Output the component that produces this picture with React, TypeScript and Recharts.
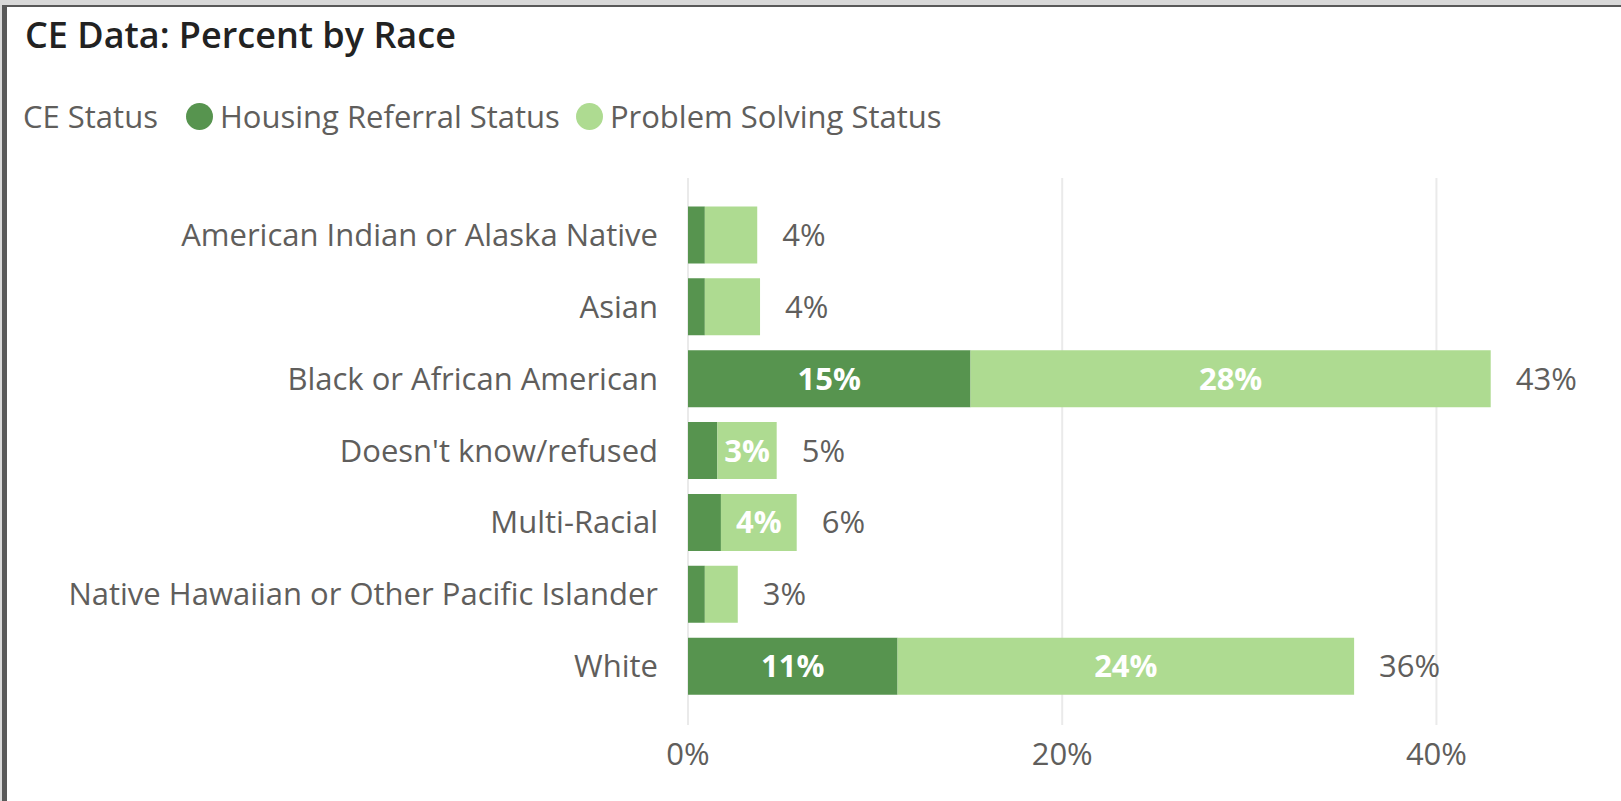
import React from 'react';
import { BarChart, Bar, XAxis, YAxis, CartesianGrid, LabelList, Legend } from 'recharts';

const categories = [
  'American Indian or Alaska Native',
  'Asian',
  'Black or African American',
  "Doesn't know/refused",
  'Multi-Racial',
  'Native Hawaiian or Other Pacific Islander',
  'White',
];
const housingReferral = [0.9, 0.9, 15.1, 1.57, 1.76, 0.9, 11.2];
const problemSolving = [2.8, 2.95, 27.8, 3.17, 4.05, 1.76, 24.4];
const xTicks = [0, 20, 40];
const seriesNames = ['Housing Referral Status', 'Problem Solving Status'];
const legendTitle = 'CE Status';
const chartTitle = 'CE Data: Percent by Race';

const DARK = '#57944F';
const LIGHT = '#AEDB91';
const GRAY = '#605E5C';
const FONT = "'Open Sans', 'Segoe UI', sans-serif";

const data = categories.map((race, i) => ({
  race,
  housing: housingReferral[i],
  problem: problemSolving[i],
  total: housingReferral[i] + problemSolving[i],
}));

const fmt = (v: number) => `${Math.round(v)}%`;

const getBox = (p: any) => {
  const vb = p.viewBox && p.viewBox.width !== undefined ? p.viewBox : p;
  return { x: Number(vb.x), y: Number(vb.y), width: Number(vb.width), height: Number(vb.height) };
};

const InnerLabel = (p: any) => {
  const { x, y, width, height } = getBox(p);
  if (!(width >= 57)) return null;
  return (
    <text x={x + width / 2} y={y + height / 2 + 11} textAnchor="middle" fill="#FFFFFF"
      fontFamily={FONT} fontSize={31} fontWeight={700}>
      {fmt(Number(p.value))}
    </text>
  );
};

const TotalLabel = (p: any) => {
  const { x, y, width, height } = getBox(p);
  return (
    <text x={x + width + 25} y={y + height / 2 + 11} textAnchor="start" fill={GRAY}
      fontFamily={FONT} fontSize={31}>
      {fmt(Number(p.value))}
    </text>
  );
};

const YTick = (p: any) => (
  <text x={p.x} y={p.y + 11} textAnchor="end" fill={GRAY} fontFamily={FONT} fontSize={31}>
    {p.payload.value}
  </text>
);

const XTick = (p: any) => (
  <text x={p.x} y={p.y} textAnchor="middle" fill={GRAY} fontFamily={FONT} fontSize={31}>
    {`${p.payload.value}%`}
  </text>
);

const LegendContent = (p: any) => {
  const items = p.payload || [];
  return (
    <div style={{ display: 'flex', alignItems: 'center', fontFamily: FONT, fontSize: 31, lineHeight: 1, color: GRAY, whiteSpace: 'nowrap' }}>
      <span style={{ marginRight: 28 }}>{legendTitle}</span>
      {items.map((it: any, i: number) => (
        <span key={i} style={{ display: 'flex', alignItems: 'center', marginRight: 16 }}>
          <span style={{ width: 27, height: 27, borderRadius: '50%', background: it.color, marginRight: 7, display: 'inline-block' }} />
          <span>{it.value}</span>
        </span>
      ))}
    </div>
  );
};

export default function App() {
  return (
    <div style={{ position: 'absolute', left: 0, top: 0, width: 1621, height: 801, background: '#FFFFFF', overflow: 'hidden' }}>
      <div style={{ position: 'absolute', left: 0, top: 0, width: 1621, height: 4.5, background: '#D9D9D9' }} />
      <div style={{ position: 'absolute', left: 0, top: 0, width: 2, height: 801, background: '#D9D9D9' }} />
      <div style={{ position: 'absolute', left: 2, top: 4.5, width: 1619, height: 2.5, background: '#595959' }} />
      <div style={{ position: 'absolute', left: 2, top: 4.5, width: 5, height: 797, background: '#595959' }} />
      <div style={{ position: 'absolute', left: 25, top: 17, fontFamily: FONT, fontSize: 36, fontWeight: 600, lineHeight: 1, color: '#222222', whiteSpace: 'nowrap' }}>
        {chartTitle}
      </div>
      <div style={{ position: 'absolute', left: 0, top: 0 }}>
        <BarChart
          width={1621}
          height={801}
          data={data}
          layout="vertical"
          margin={{ top: 178, right: 91, left: 0, bottom: 36 }}
          barCategoryGap={7.5}
        >
          <CartesianGrid horizontal={false} vertical={true} verticalValues={xTicks} stroke="#EAEAEA" strokeWidth={2} />
          <XAxis
            type="number"
            domain={[0, 45]}
            ticks={xTicks}
            height={40}
            axisLine={false}
            tickLine={false}
            tickSize={0}
            tickMargin={40}
            tick={<XTick />}
            interval={0}
          />
          <YAxis
            type="category"
            dataKey="race"
            width={688}
            axisLine={false}
            tickLine={false}
            tickSize={0}
            tickMargin={30}
            tick={<YTick />}
            interval={0}
            padding={{ top: 21, bottom: 23 }}
          />
          <Legend
            verticalAlign="middle"
            align="center"
            layout="horizontal"
            content={<LegendContent />}
            wrapperStyle={{ position: 'absolute', top: 101, left: 23, width: 'auto' }}
          />
          <Bar dataKey="housing" name={seriesNames[0]} stackId="a" fill={DARK} isAnimationActive={false}>
            <LabelList dataKey="housing" content={<InnerLabel />} />
          </Bar>
          <Bar dataKey="problem" name={seriesNames[1]} stackId="a" fill={LIGHT} isAnimationActive={false}>
            <LabelList dataKey="problem" content={<InnerLabel />} />
            <LabelList dataKey="total" content={<TotalLabel />} />
          </Bar>
        </BarChart>
      </div>
    </div>
  );
}
